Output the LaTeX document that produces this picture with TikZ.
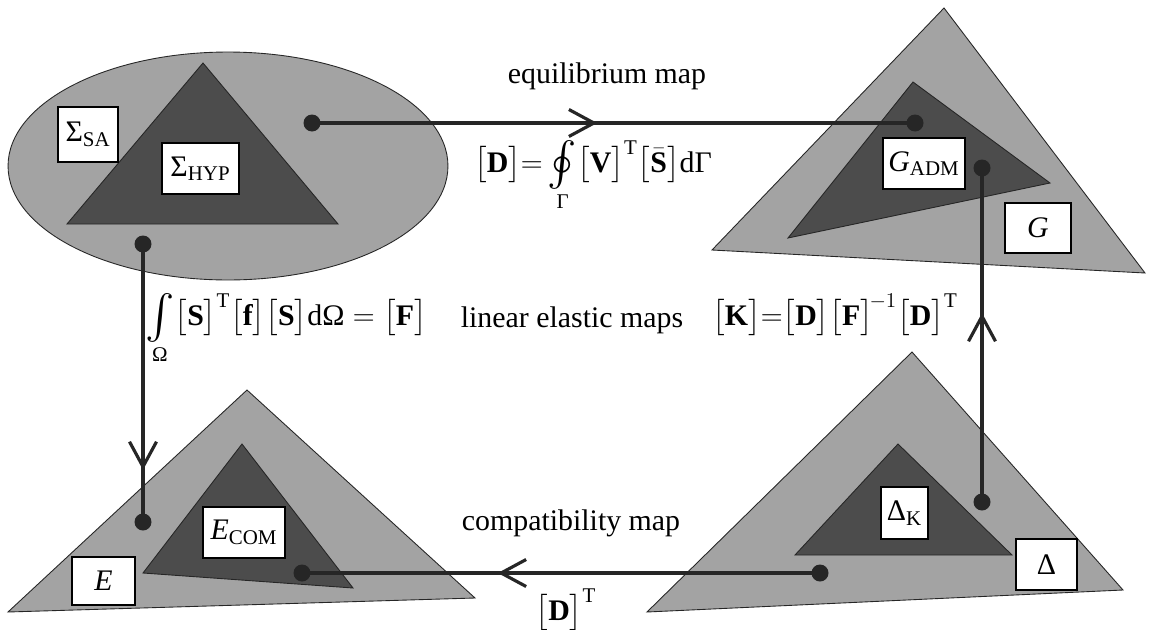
\documentclass[tikz,border=0pt]{standalone}
\usepackage{amsmath}
\usepackage{graphicx}
\usepackage{fontspec}
\setmainfont{Liberation Serif}
\usetikzlibrary{arrows.meta, decorations.markings}

\newcommand{\bigoint}{\mathop{\raisebox{-0.3ex}{\scalebox{1.45}{$\oint$}}}\limits}
\newcommand{\bigint}{\mathop{\raisebox{-0.3ex}{\scalebox{1.45}{$\int$}}}\limits}

\begin{document}
\begin{tikzpicture}[x=0.02cm, y=-0.02cm,
    every node/.style={font=\fontsize{17}{20}\selectfont},
    light/.style={draw=black!85, line width=0.5pt, fill=black!36},
    dark/.style={draw=black!85, line width=0.5pt, fill=black!70},
    box/.style={draw, fill=white, line width=0.6pt, inner sep=0pt},
    dot/.style={circle, inner sep=0pt, minimum size=0.34cm},
    conn/.style={line width=2pt, draw=black!85},
    midarrow/.style={postaction={decorate}, decoration={markings,
        mark=at position #1 with {\arrow{Straight Barb[length=0.5cm, width=0.54cm, line width=1.8pt]}}}},
    lbl/.style={inner sep=0pt, anchor=base}]
    \path[use as bounding box, fill=white] (0,0) rectangle (1149,629);

    % statically admissible set (ellipse)
    \draw[light] (228,166) ellipse [x radius=4.4cm, y radius=2.28cm];
    \draw[dark] (203,63) -- (67,224) -- (338,224) -- cycle;

    % G (top right)
    \draw[light] (944,8) -- (712,250) -- (1145,273) -- cycle;
    \draw[dark] (913,82) -- (1050,183) -- (788,238) -- cycle;

    % E (bottom left)
    \draw[light] (247,390) -- (8,612) -- (475,598) -- cycle;
    \draw[dark] (242,444) -- (143,573) -- (353,588) -- cycle;

    % Delta (bottom right)
    \draw[light] (912,352) -- (647,612) -- (1123,590) -- cycle;
    \draw[dark] (898,444) -- (795,555) -- (1012,555) -- cycle;

    % end points of the maps
    \node[dot] (hyp) at (312,123) {};
    \node[dot] (adm) at (915,123) {};
    \node[dot] (sa) at (143,244) {};
    \node[dot] (com) at (143,522) {};
    \node[dot] (gd) at (982,168) {};
    \node[dot] (kd) at (982,502) {};
    \node[dot] (dd) at (820,573) {};
    \node[dot] (ed) at (302,573) {};

    % maps
    \draw[conn, midarrow=0.473] (hyp.center) -- (adm.center);
    \draw[conn, midarrow=0.813] (sa.center) -- (com.center);
    \draw[conn, midarrow=0.566] (kd.center) -- (gd.center);
    \draw[conn, midarrow=0.622] (dd.center) -- (ed.center);
    \foreach \d in {hyp, adm, sa, com, gd, kd, dd, ed}
        \fill[black!85] (\d) circle [radius=0.17cm];

    % set labels
    \node[box, minimum width=1.2cm, minimum height=1.1cm] (sigsa) at (88,134.5) {$\text{Σ}_{\mathrm{SA}}$};
    \node[box, minimum width=1.54cm, minimum height=1.02cm] (sighyp) at (200.5,168.5) {$\text{Σ}_{\mathrm{HYP}}$};
    \node[box, minimum width=1.64cm, minimum height=1.02cm] (gadm) at (924,163.5) {$\mathit{G}_{\mathrm{ADM}}$};
    \node[box, minimum width=1.32cm, minimum height=1.0cm] (gset) at (1038,228) {$\mathit{G}$};
    \node[box, minimum width=1.64cm, minimum height=1.02cm] (ecom) at (244,532.5) {$\mathit{E}_{\mathrm{COM}}$};
    \node[box, minimum width=1.26cm, minimum height=0.96cm] (eset) at (103.5,581) {$\mathit{E}$};
    \node[box, minimum width=0.94cm, minimum height=1.04cm] (delk) at (904.5,513) {$\text{Δ}_{\mathrm{K}}$};
    \node[box, minimum width=1.22cm, minimum height=1.02cm] (delset) at (1046.5,564.5) {$\text{Δ}$};

    % map labels
    \node[lbl] (eqmap) at (607,83) {equilibrium map};
    \node[lbl] (eqform) at (593,172) {$\bigl[\mathbf{D}\bigr]{=}\bigoint_{\text{Γ}}\bigl[\mathbf{V}\bigr]^{\mathrm{T}}\bigl[\bar{\mathbf{S}}\bigr]\mathrm{d}\text{Γ}$};
    \node[lbl] (flexform) at (286,325) {$\bigint_{\text{Ω}}\bigl[\mathbf{S}\bigr]^{\mathrm{T}}\bigl[\mathbf{f}\bigr]\bigl[\mathbf{S}\bigr]\mathrm{d}\text{Ω}=\bigl[\mathbf{F}\bigr]$};
    \node[lbl] (linmap) at (572,327) {linear elastic maps};
    \node[lbl] (kform) at (835,325) {$\bigl[\mathbf{K}\bigr]{=}\bigl[\mathbf{D}\bigr]\bigl[\mathbf{F}\bigr]^{\!-1}\bigl[\mathbf{D}\bigr]^{\mathrm{T}}$};
    \node[lbl] (compmap) at (571,530) {compatibility map};
    \node[lbl] (dtform) at (566,620) {$\bigl[\mathbf{D}\bigr]^{\mathrm{T}}$};
\end{tikzpicture}
\end{document}
